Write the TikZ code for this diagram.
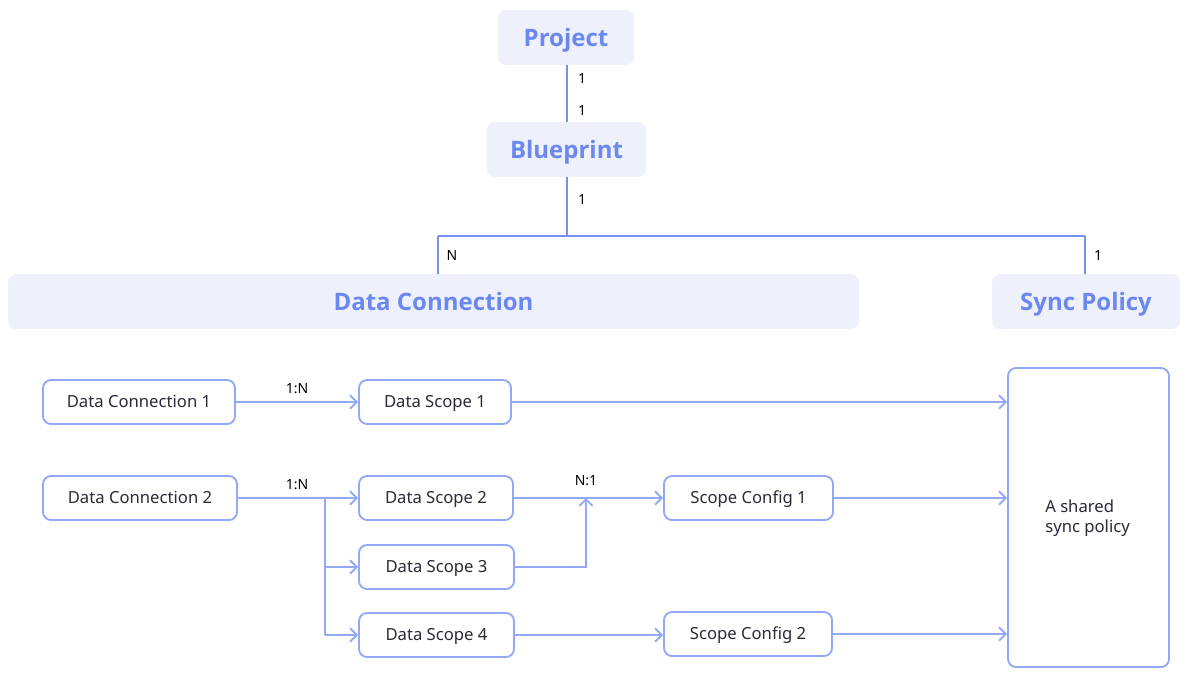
\documentclass[tikz,border=0pt]{standalone}
\usepackage{fontspec}
\setmainfont{Noto Sans}
\newfontfamily\hdrfont{Open Sans}
\usetikzlibrary{arrows.meta}
\definecolor{hdrfill}{HTML}{EEF0FC}
\definecolor{hdrtext}{HTML}{6B87F0}
\definecolor{hdrline}{HTML}{7490F0}
\definecolor{boxline}{HTML}{93A8F6}
\definecolor{txt}{HTML}{2A2A38}
\tikzset{
  hdr/.style={fill=hdrfill, rounded corners=6pt, text=hdrtext, font=\hdrfont\bfseries\fontsize{18}{21}\selectfont, minimum height=41.25pt, inner sep=0pt, text height=12.8pt, text depth=0pt},
  hline/.style={draw=hdrline, line width=1.5pt},
  box/.style={draw=boxline, line width=1.4pt, rounded corners=6pt, text=txt, font=\fontsize{12.5}{15}\selectfont, minimum height=33pt, inner sep=0pt, fill=white, text height=8.9pt, text depth=0pt},
  arr/.style={draw=boxline, line width=1.4pt, -{Straight Barb[length=5pt,width=10pt,line width=1.4pt]}},
  pl/.style={draw=boxline, line width=1.4pt},
  lbl/.style={text=black, font=\fontsize{10.5}{12}\selectfont, inner sep=0pt},
}
\begin{document}
\begin{tikzpicture}[x=0.75pt,y=-0.75pt]
\useasboundingbox (0,0) rectangle (1184,676);
% header nodes
\node[hdr, minimum width=102pt] (Project) at (566,37.5) {Project};
\node[hdr, minimum width=119.25pt] (Blueprint) at (566.5,149.5) {Blueprint};
\node[hdr, minimum width=638.25pt] (DataConn) at (433.5,301.5) {Data Connection};
\node[hdr, minimum width=141pt] (Sync) at (1086,301.5) {Sync Policy};
\coordinate (jL) at (438,236);
\coordinate (jR) at (1085,236);
\coordinate (jT) at (567,236);
\draw[hline] (Project.south -| jT) -- (Blueprint.north -| jT);
\draw[hline] (Blueprint.south -| jT) -- (jT);
\draw[hline] (jL) -- (jR);
\draw[hline] (jL) -- (jL |- DataConn.north);
\draw[hline] (jR) -- (jR |- Sync.north);
\node[lbl] (l1) at (582,78) {1};
\node[lbl] (l2) at (582,110) {1};
\node[lbl] (l3) at (582,199) {1};
\node[lbl] (l4) at (452,255) {N};
\node[lbl] (l5) at (1098,255) {1};
% lower section
\node[box, minimum width=144pt] (DC1) at (139,402) {Data Connection 1};
\node[box, minimum width=114pt] (DS1) at (435,402) {Data Scope 1};
\node[box, minimum width=145.5pt] (DC2) at (140,498) {Data Connection 2};
\node[box, minimum width=115.5pt] (DS2) at (436,498) {Data Scope 2};
\node[box, minimum width=116.25pt] (DS3) at (436.5,567) {Data Scope 3};
\node[box, minimum width=116.25pt] (DS4) at (436.5,635) {Data Scope 4};
\node[box, minimum width=126.75pt] (SC1) at (748.5,498) {Scope Config 1};
\node[box, minimum width=126pt] (SC2) at (748,634) {Scope Config 2};
\node[box, minimum width=120.75pt, minimum height=224.25pt] (Shared) at (1088.5,517.5) {};
\node[text=txt, font=\fontsize{12.5}{15.5}\selectfont, align=left, anchor=west, inner sep=0pt] (SharedTxt) at (1045,518) {A shared\\sync policy};
\draw[arr] (DC1) -- (DS1);
\draw[arr] (DS1.east) -- (DS1.east -| Shared.west);
\draw[arr] (DC2) -- (DS2);
\coordinate (br) at (325,498);
\draw[pl] (br) -- (br |- DS4.west);
\draw[arr] (br |- DS3.west) -- (DS3.west);
\draw[arr] (br |- DS4.west) -- (DS4.west);
\draw[arr] (DS2) -- (SC1);
\coordinate (mg) at (586,498);
\draw[arr] (DS3.east) -| (mg);
\draw[arr] (SC1.east) -- (SC1.east -| Shared.west);
\draw[arr] (DS4.east) -- (DS4.east -| SC2.west);
\draw[arr] (SC2.east) -- (SC2.east -| Shared.west);
\node[lbl] (n1) at (297,389) {1:N};
\node[lbl] (n2) at (297,485) {1:N};
\node[lbl] (n3) at (586,481) {N:1};
\end{tikzpicture}
\end{document}
